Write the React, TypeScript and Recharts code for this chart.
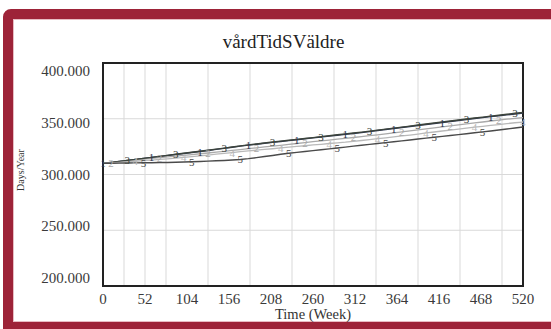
import { CartesianGrid, Line, LineChart, ReferenceArea, XAxis, YAxis } from "recharts";

const weeks = [
  0, 10, 20, 30, 40, 50, 60, 70, 80, 90, 100, 110, 120, 130, 140, 150, 160, 170, 180, 190, 200,
  210, 220, 230, 240, 250, 260, 270, 280, 290, 300, 310, 320, 330, 340, 350, 360, 370, 380, 390,
  400, 410, 420, 430, 440, 450, 460, 470, 480, 490, 500, 510, 520,
];

const run1 = [
  310.0, 310.8, 311.7, 312.6, 313.5, 314.4, 315.3, 316.2, 317.0, 317.9, 318.8, 319.7, 320.6, 321.5,
  322.5, 323.4, 324.4, 325.4, 326.3, 327.1, 328.0, 328.8, 329.6, 330.4, 331.2, 332.0, 332.8, 333.6,
  334.4, 335.2, 336.0, 336.8, 337.6, 338.5, 339.4, 340.3, 341.2, 342.1, 343.0, 343.9, 344.8, 345.7,
  346.6, 347.5, 348.4, 349.3, 350.2, 351.0, 351.9, 352.7, 353.5, 354.3, 355.0,
];
const run2 = [
  310.0, 310.7, 311.4, 312.2, 312.9, 313.7, 314.4, 315.2, 315.8, 316.5, 317.2, 317.9, 318.6, 319.3,
  320.1, 320.8, 321.6, 322.4, 323.2, 323.9, 324.7, 325.4, 326.2, 327.0, 327.8, 328.6, 329.4, 330.1,
  330.9, 331.7, 332.4, 333.2, 334.0, 334.8, 335.6, 336.5, 337.4, 338.3, 339.2, 340.0, 340.9, 341.8,
  342.7, 343.6, 344.5, 345.4, 346.3, 347.1, 348.0, 348.8, 349.6, 350.4, 351.0,
];
const run3 = [
  310.0, 310.9, 311.8, 312.7, 313.6, 314.5, 315.4, 316.3, 317.2, 318.1, 319.0, 319.9, 320.8, 321.8,
  322.8, 323.7, 324.7, 325.7, 326.6, 327.4, 328.3, 329.1, 329.9, 330.7, 331.5, 332.3, 333.1, 334.0,
  334.8, 335.6, 336.4, 337.2, 338.0, 338.9, 339.8, 340.7, 341.6, 342.5, 343.4, 344.4, 345.3, 346.2,
  347.1, 348.0, 348.9, 349.8, 350.7, 351.5, 352.4, 353.2, 354.0, 354.9, 355.6,
];
const run4 = [
  310.0, 310.4, 310.9, 311.4, 311.9, 312.4, 312.9, 313.5, 314.0, 314.6, 315.3, 316.0, 316.7, 317.4,
  318.2, 318.9, 319.7, 320.5, 321.2, 321.8, 322.5, 323.1, 323.8, 324.5, 325.2, 325.8, 326.5, 327.1,
  327.8, 328.4, 329.0, 329.8, 330.5, 331.3, 332.1, 332.9, 333.8, 334.6, 335.4, 336.3, 337.3, 338.1,
  339.0, 339.8, 340.7, 341.5, 342.4, 343.2, 344.0, 344.8, 345.6, 346.4, 347.0,
];
const run5 = [
  310.0, 310.1, 310.2, 310.3, 310.4, 310.5, 310.6, 310.7, 310.8, 311.0, 311.2, 311.4, 311.7, 312.0,
  312.3, 312.6, 313.0, 313.5, 314.2, 315.1, 316.1, 317.1, 318.1, 319.0, 319.8, 320.6, 321.4, 322.2,
  323.0, 323.8, 324.6, 325.4, 326.2, 327.0, 327.8, 328.6, 329.4, 330.2, 331.0, 331.8, 332.6, 333.4,
  334.2, 335.0, 335.8, 336.6, 337.4, 338.2, 339.0, 339.9, 340.8, 341.7, 342.6,
];

const xTicks = [0, 52, 104, 156, 208, 260, 312, 364, 416, 468, 520];
const yTicks = [200, 250, 300, 350, 400];
const gridWeeks = [
  26, 52, 78, 104, 130, 156, 182, 208, 234, 260, 286, 312, 338, 364, 390, 416, 442, 468, 494,
];
const gridValues = [250, 300, 350];

const data = weeks.map((w, i) => ({
  week: w,
  r1: run1[i],
  r2: run2[i],
  r3: run3[i],
  r4: run4[i],
  r5: run5[i],
}));

const series = [
  { key: "r1", digit: "1", color: "#2e3650", width: 1.4, offset: 0 },
  { key: "r2", digit: "2", color: "#a9a9a9", width: 1.3, offset: 1 },
  { key: "r3", digit: "3", color: "#3c443c", width: 1.4, offset: 3 },
  { key: "r4", digit: "4", color: "#b9b9b9", width: 1.3, offset: 4 },
  { key: "r5", digit: "5", color: "#4a4a4a", width: 1.4, offset: 5 },
];

const SERIF = '"Liberation Serif", "Times New Roman", serif';

const makeDot = (s: (typeof series)[number]) => (props: any) => {
  const { cx, cy, index } = props;
  if (index % 6 !== s.offset || cx == null || cy == null) {
    return <g key={`${s.key}-${index}`} />;
  }
  return (
    <text
      key={`${s.key}-${index}`}
      x={cx}
      y={cy}
      textAnchor="middle"
      dominantBaseline="central"
      fontSize={11}
      fontFamily={SERIF}
      fill={s.color}
    >
      {s.digit}
    </text>
  );
};

// vensim squeezes the value labels a bit toward the middle of the plot
const YTick = (props: any) => {
  const { x, y, payload } = props;
  const shift = (174.5 - y) * 0.075;
  return (
    <text
      x={x}
      y={y + shift}
      textAnchor="end"
      dominantBaseline="central"
      fontSize={15}
      fontFamily={SERIF}
      fill="#3a3a3a"
    >
      {Number(payload.value).toFixed(3)}
    </text>
  );
};

export default function App() {
  return (
    <div
      style={{
        position: "absolute",
        left: 0,
        top: 0,
        width: 551,
        height: 329,
        overflow: "hidden",
        background: "#fff",
      }}
    >
      <div
        style={{
          position: "absolute",
          left: 3,
          top: 9,
          width: 620,
          height: 323,
          boxSizing: "border-box",
          border: "10px solid #9d2338",
          borderTopLeftRadius: 8,
          boxShadow: "inset 0 0 0 1px #e7bcc3",
        }}
      />
      <div style={{ position: "absolute", left: 0, top: 0 }}>
        <LineChart
          width={551}
          height={329}
          data={data}
          margin={{ top: 63, right: 28, bottom: 13, left: 0 }}
        >
          <CartesianGrid
            stroke="#d9d9d9"
            strokeWidth={1}
            verticalValues={gridWeeks}
            horizontalValues={gridValues}
          />
          <XAxis
            dataKey="week"
            type="number"
            domain={[0, 520]}
            ticks={xTicks}
            height={30}
            axisLine={false}
            tickLine={false}
            tickMargin={1}
            tick={{ fontSize: 15, fontFamily: SERIF, fill: "#3a3a3a" }}
          />
          <YAxis
            type="number"
            domain={[200, 400]}
            ticks={yTicks}
            width={103}
            axisLine={false}
            tickLine={false}
            tickMargin={7}
            tick={<YTick />}
          />
          <ReferenceArea
            x1={0}
            x2={520}
            y1={200}
            y2={400}
            fill="none"
            stroke="#222"
            strokeWidth={2}
          />
          {series.map((s) => (
            <Line
              key={s.key}
              dataKey={s.key}
              type="linear"
              stroke={s.color}
              strokeWidth={s.width}
              dot={makeDot(s)}
              activeDot={false}
              isAnimationActive={false}
            />
          ))}
        </LineChart>
      </div>
      <svg
        width={551}
        height={329}
        style={{ position: "absolute", left: 0, top: 0, pointerEvents: "none" }}
      >
        <text x={283.5} y={48} textAnchor="middle" fontSize={19} fontFamily={SERIF} fill="#222">
          vårdTidSVäldre
        </text>
        <text
          x={24}
          y={170}
          textAnchor="middle"
          fontSize={10}
          fontFamily={SERIF}
          fill="#333"
          transform="rotate(-90 24 170)"
        >
          Days/Year
        </text>
        <text x={313} y={319} textAnchor="middle" fontSize={14.5} fontFamily={SERIF} fill="#333">
          Time (Week)
        </text>
      </svg>
    </div>
  );
}
